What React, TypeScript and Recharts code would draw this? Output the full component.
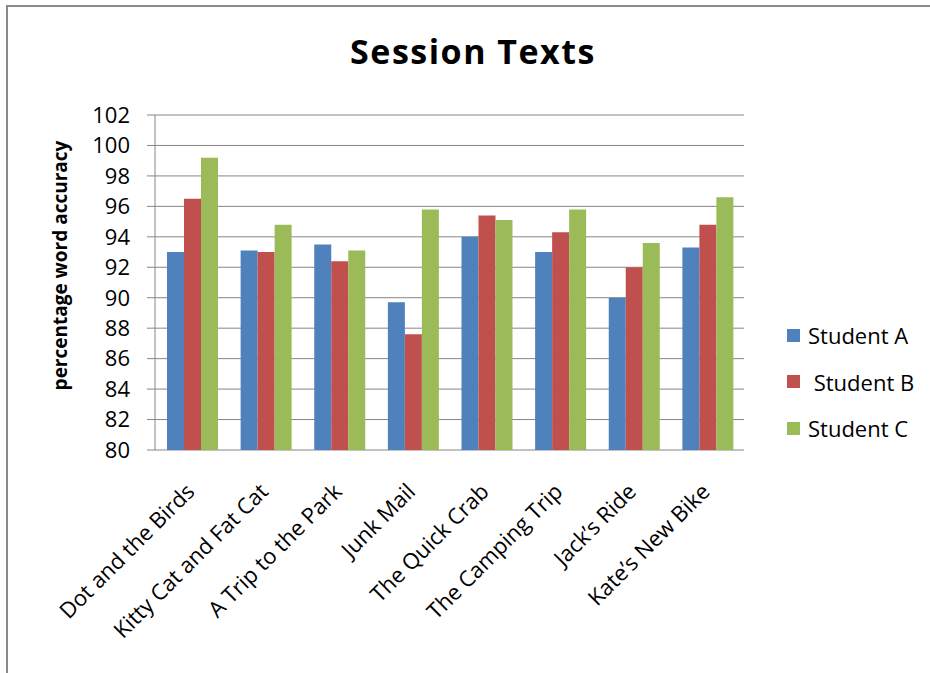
import React from "react";
import { BarChart, Bar, XAxis, YAxis, CartesianGrid, Legend } from "recharts";

// Reading-accuracy results per session text
const categories = [
  "Dot and the Birds",
  "Kitty Cat and Fat Cat",
  "A Trip to the Park",
  "Junk Mail",
  "The Quick Crab",
  "The Camping Trip",
  "Jack’s Ride",
  "Kate’s New Bike",
];
const studentA = [93.0, 93.1, 93.5, 89.7, 94.0, 93.0, 90.0, 93.3];
const studentB = [96.5, 93.0, 92.4, 87.6, 95.4, 94.3, 92.0, 94.8];
const studentC = [99.2, 94.8, 93.1, 95.8, 95.1, 95.8, 93.6, 96.6];

const seriesNames = ["Student A", " Student B", "Student C"];
const seriesKeys = ["a", "b", "c"];
const seriesColors = ["#4F81BD", "#C0504D", "#9BBB59"];

const yTicks = [80, 82, 84, 86, 88, 90, 92, 94, 96, 98, 100, 102];
// category boundaries for the tick marks along the bottom axis
const boundaryTicks = [0, 1, 2, 3, 4, 5, 6, 7, 8];

const data = categories.map((name, i) => ({
  name,
  a: studentA[i],
  b: studentB[i],
  c: studentC[i],
}));

const FONT = "'Open Sans', 'DejaVu Sans', sans-serif";
const GRID = "#868686";

function CategoryTick(props: any) {
  const { x, y, payload } = props;
  const ax = x + 4;
  const ay = y + 43;
  return (
    <text
      x={ax}
      y={ay}
      textAnchor="end"
      transform={`rotate(-45, ${ax}, ${ay})`}
      fontFamily={FONT}
      fontSize={22}
      fill="#000"
    >
      {payload.value}
    </text>
  );
}

function YTitle(props: any) {
  const vb = props.viewBox || { x: 0, y: 0, width: 0, height: 0 };
  const cx = vb.x + 60;
  const cy = vb.y + vb.height / 2 - 17;
  return (
    <text
      x={cx}
      y={cy}
      textAnchor="middle"
      dominantBaseline="central"
      transform={`rotate(-90, ${cx}, ${cy})`}
      fontFamily={FONT}
      fontWeight="bold"
      fontSize={19}
      fill="#000"
    >
      percentage word accuracy
    </text>
  );
}

function LegendBox() {
  return (
    <div style={{ fontFamily: FONT, fontSize: 22, color: "#000" }}>
      {seriesNames.map((n, i) => (
        <div
          key={n}
          style={{ display: "flex", alignItems: "center", height: 46.5 }}
        >
          <span
            style={{
              display: "inline-block",
              width: 13,
              height: 13,
              background: seriesColors[i],
              marginRight: 8,
            }}
          />
          <span style={{ whiteSpace: "pre" }}>{n}</span>
        </div>
      ))}
    </div>
  );
}

export default function App() {
  return (
    <div
      style={{
        position: "relative",
        width: 930,
        height: 673,
        overflow: "hidden",
        background: "#fff",
      }}
    >
      <style>{"body { margin: 0; }"}</style>
      <div
        style={{
          position: "absolute",
          left: 0,
          width: 946,
          top: 34,
          textAlign: "center",
          fontFamily: FONT,
          fontWeight: "bold",
          fontSize: 34,
          letterSpacing: 1.5,
          lineHeight: "34px",
          color: "#000",
          zIndex: 2,
        }}
      >
        Session Texts
      </div>
      <BarChart
        width={930}
        height={673}
        data={data}
        margin={{ top: 115, right: 186, bottom: 0, left: 0 }}
        barCategoryGap={12}
        barGap={0}
      >
        <CartesianGrid vertical={false} stroke={GRID} xAxisId="cat" />
        <XAxis
          xAxisId="edges"
          type="number"
          domain={[0, 8]}
          ticks={boundaryTicks}
          allowDataOverflow
          height={0}
          axisLine={{ stroke: GRID }}
          tickLine={{ stroke: GRID }}
          tickSize={8}
          tickFormatter={() => ""}
        />
        <XAxis
          xAxisId="cat"
          dataKey="name"
          height={223}
          axisLine={false}
          tickLine={false}
          tickSize={0}
          tickMargin={0}
          interval={0}
          tick={<CategoryTick />}
        />
        <YAxis
          domain={[80, 102]}
          ticks={yTicks}
          interval={0}
          allowDataOverflow
          width={155}
          axisLine={{ stroke: GRID }}
          tickLine={{ stroke: GRID }}
          tickSize={8}
          tickMargin={17}
          tick={{ fontFamily: FONT, fontSize: 22, fill: "#000" }}
          label={<YTitle />}
        />
        <Legend
          layout="vertical"
          align="center"
          verticalAlign="middle"
          wrapperStyle={{ position: "absolute", left: 787, top: 311.75, width: 140 }}
          content={() => <LegendBox />}
        />
        {seriesKeys.map((k, i) => (
          <Bar
            key={k}
            xAxisId="cat"
            dataKey={k}
            name={seriesNames[i]}
            fill={seriesColors[i]}
            isAnimationActive={false}
          />
        ))}
      </BarChart>
      {/* outer chart-area frame: only its top and left edges fall inside the view */}
      <svg
        width={930}
        height={673}
        style={{ position: "absolute", left: 0, top: 0, zIndex: 3, pointerEvents: "none" }}
      >
        <line x1={6} y1={6} x2={930} y2={6} stroke="#8a8a8a" strokeWidth={2} />
        <line x1={7} y1={5} x2={7} y2={673} stroke="#8a8a8a" strokeWidth={2} />
      </svg>
    </div>
  );
}
